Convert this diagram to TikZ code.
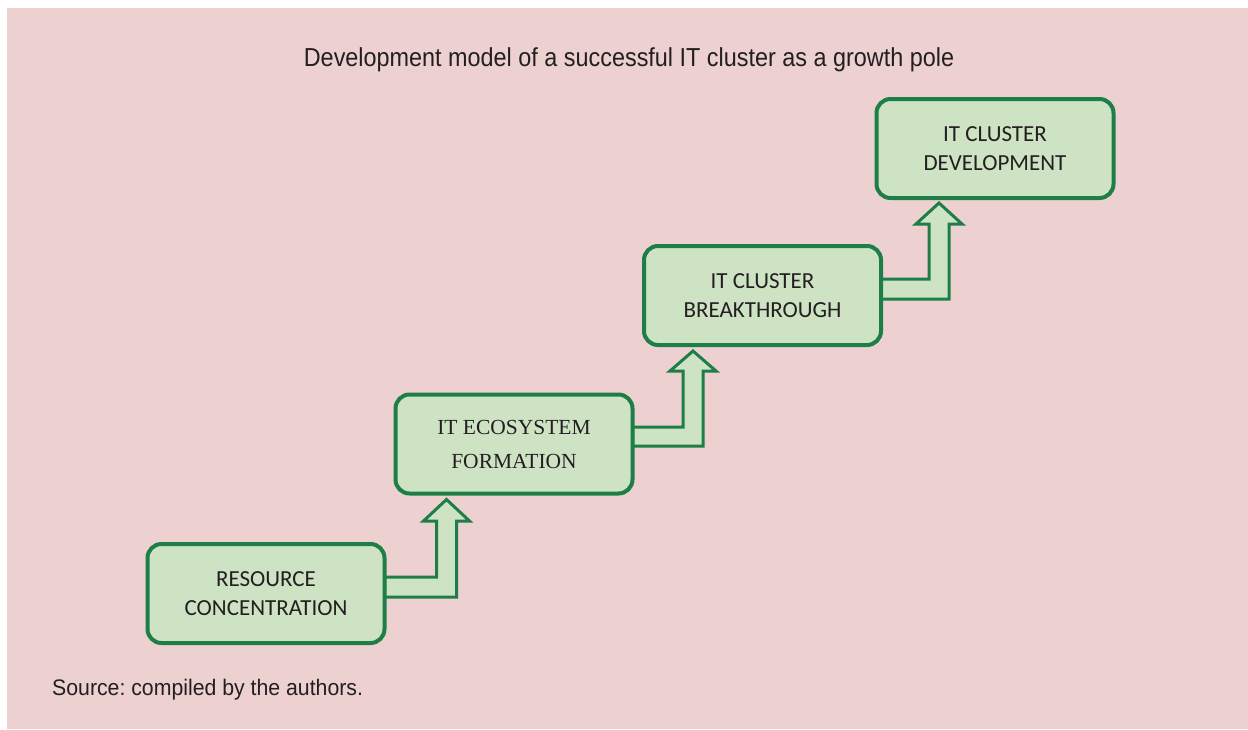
\documentclass[tikz,border=0pt]{standalone}
\usepackage{fontspec}
\setmainfont{Liberation Sans}
\newfontfamily\boxfont{Carlito}
\newfontfamily\serifbox{Liberation Serif}
\newfontfamily\titlefont[FakeStretch=0.9]{Liberation Sans}
\newfontfamily\srcfont[FakeStretch=0.945]{Liberation Sans}
\usetikzlibrary{calc}
\frenchspacing
\definecolor{bgpink}{RGB}{237,209,209}
\definecolor{boxfill}{RGB}{206,227,196}
\definecolor{boxline}{RGB}{29,126,72}
\definecolor{txt}{RGB}{35,31,32}
\pgfdeclarelayer{bglayer}
\pgfdeclarelayer{arrowlayer}
\pgfsetlayers{bglayer,arrowlayer,main}
\tikzset{
  stage/.style={draw=boxline, fill=boxfill, line width=4pt, rounded corners=14pt,
    minimum width=237pt, minimum height=99pt, inner sep=0pt, outer sep=0pt,
    align=center, text=txt, font=\boxfont\fontsize{23}{29.5}\selectfont},
  serifstage/.style={stage, font=\serifbox\fontsize{21.5}{34}\selectfont},
  uparrow/.style={draw=boxline, fill=boxfill, line width=3pt, line join=miter},
  caption/.style={text=txt, inner sep=0pt}
}
\begin{document}
\begin{tikzpicture}[x=1pt,y=-1pt]
\useasboundingbox (0,0) rectangle (1248,729);
\begin{pgfonlayer}{bglayer}
\fill[bgpink] (7,8) rectangle (1248,729);
\end{pgfonlayer}

\node[caption, anchor=base, font=\titlefont\fontsize{26}{30}\selectfont] (title) at (629,66)
  {Development model of a successful IT cluster as a growth pole};
\node[caption, anchor=base west, font=\srcfont\fontsize{22.5}{26}\selectfont] (source) at (52,695)
  {Source: compiled by the authors.};

\node[stage] (b1) at (266,593.5) {RESOURCE\\CONCENTRATION};
\node[serifstage] (b2) at (514,444) {IT ECOSYSTEM\\FORMATION};
\node[stage] (b3) at (762.5,295.5) {IT CLUSTER\\BREAKTHROUGH};
\node[stage] (b4) at (995,148.5) {IT CLUSTER\\DEVELOPMENT};

\begin{pgfonlayer}{arrowlayer}
\draw[uparrow] (b1.east |- 0,577) -- (436.5,577) -- (436.5,521) -- (423.5,521)
  -- ($(b2.south -| 446.5,0)+(0,6)$) -- (469.5,521) -- (456.5,521) -- (456.5,597)
  -- (b1.east |- 0,597) -- cycle;
\draw[uparrow] (b2.east |- 0,427) -- (683,427) -- (683,371) -- (670,371)
  -- ($(b3.south -| 693,0)+(0,6)$) -- (716,371) -- (703,371) -- (703,446)
  -- (b2.east |- 0,446) -- cycle;
\draw[uparrow] (b3.east |- 0,279) -- (929,279) -- (929,224) -- (916,224)
  -- ($(b4.south -| 939,0)+(0,5)$) -- (962,224) -- (949,224) -- (949,299)
  -- (b3.east |- 0,299) -- cycle;
\end{pgfonlayer}
\end{tikzpicture}
\end{document}
